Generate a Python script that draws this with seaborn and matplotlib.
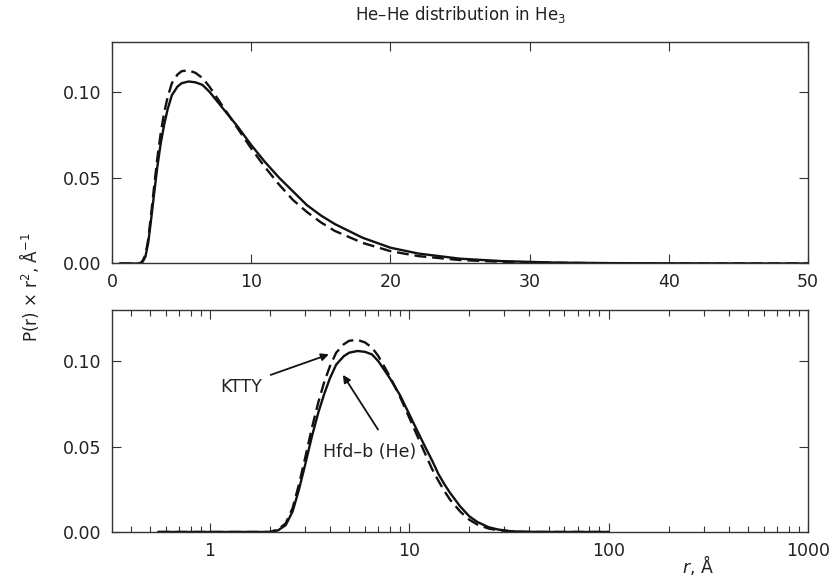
#!/usr/bin/env python3

import matplotlib
matplotlib.use("Agg")
import matplotlib.pylab as plt
import pandas as pd
import seaborn as sns

# Values
r_values = [0.55, 2.0, 2.2, 2.4, 2.6, 2.8, 3.0, 3.25, 3.5, 3.75, 4.0, 4.3, 4.7,
            5.0, 5.5, 6.0, 6.5, 7.0, 8.0, 9.0, 10, 11, 12, 13, 14, 15, 16, 18,
            20, 22, 25, 28, 32, 36, 40, 50, 70, 100]
hfd_b = [0, 0, 0.001, 0.004, 0.012, 0.025, 0.039, 0.056, 0.070, 0.081, 0.090,
         0.098, 0.103, 0.105, 0.106, 0.1055, 0.104, 0.100, 0.090, 0.080, 0.069,
         0.059, 0.050, 0.042, 0.034, 0.028, 0.023, 0.015, 0.0092, 0.0058,
         0.0028, 0.0014, 0.0005, 0.0002, 0.0001, 0, 0, 0]
ktty = [0, 0, 0.0015, 0.005, 0.014, 0.028, 0.043, 0.061, 0.076, 0.088, 0.097,
        0.105, 0.110, 0.112, 0.1125, 0.111, 0.108, 0.103, 0.091, 0.079, 0.067,
        0.056, 0.046, 0.037, 0.030, 0.024, 0.019, 0.012, 0.0072, 0.0043,
        0.002, 0.001, 0.0004, 0.0001, 0, 0, 0, 0]
models = ["Hfd-b (He)", "KTTY"]

top_xticks = [0, 10, 20, 30, 40, 50]
y_ticks = [0.00, 0.05, 0.10]


def main():
    df = pd.concat(
        [
            pd.DataFrame({"r": r_values, "value": hfd_b, "model": models[0]}),
            pd.DataFrame({"r": r_values, "value": ktty, "model": models[1]}),
        ]
    )

    sns.set_style("ticks")
    plt.rcParams["font.family"] = ["DejaVu Sans"]
    plt.rcParams["mathtext.fontset"] = "dejavusans"
    plt.rcParams["text.color"] = "#222222"
    plt.rcParams["axes.edgecolor"] = "#333333"
    plt.rcParams["xtick.color"] = "#333333"
    plt.rcParams["ytick.color"] = "#333333"
    plt.rcParams["xtick.labelcolor"] = "#222222"
    plt.rcParams["ytick.labelcolor"] = "#222222"

    fig = plt.figure(figsize=(8.31, 5.8), dpi=100)
    ax_top = fig.add_axes([0.1348, 0.5457, 0.8375, 0.3819])
    ax_bot = fig.add_axes([0.1348, 0.0828, 0.8375, 0.3827])

    for ax in [ax_top, ax_bot]:
        sns.lineplot(
            data=df,
            x="r",
            y="value",
            hue="model",
            style="model",
            hue_order=models,
            style_order=models,
            palette=["#111111", "#111111"],
            dashes={models[0]: "", models[1]: (5, 2.5)},
            linewidth=1.7,
            sort=False,
            legend=False,
            ax=ax,
        )
        ax.set_xlabel("")
        ax.set_ylabel("")
        ax.set_yticks(y_ticks)
        ax.set_yticklabels(["%.2f" % v for v in y_ticks])
        ax.tick_params(
            which="both", direction="in", top=True, right=True, labelsize=12.5,
            width=0.8,
        )
        ax.tick_params(axis="x", which="major", length=6.5, pad=7)
        ax.tick_params(axis="y", which="major", length=6.5, pad=8)
        ax.tick_params(which="minor", length=4.5)
        for spine in ax.spines.values():
            spine.set_linewidth(1.0)

    # Linear panel
    ax_top.set_xlim(0, 50)
    ax_top.set_ylim(0, 0.129)
    ax_top.set_xticks(top_xticks)
    ax_top.set_title("He–He distribution in He$_3$", fontsize=12, pad=16)

    # Log panel
    ax_bot.set_xscale("log")
    ax_bot.set_xlim(0.323, 1000)
    ax_bot.set_ylim(0, 0.13)
    ax_bot.set_xticks([1, 10, 100, 1000])
    ax_bot.set_xticklabels(["1", "10", "100", "1000"])

    arrow = dict(arrowstyle="-|>", color="#111111", lw=1.3,
                 mutation_scale=11, shrinkA=0, shrinkB=0)
    ax_bot.annotate("", xy=(3.95, 0.104), xytext=(2.02, 0.092),
                    arrowprops=arrow)
    ax_bot.text(1.44, 0.085, "KTTY", fontsize=12.5, ha="center", va="center")
    ax_bot.annotate("", xy=(4.65, 0.092), xytext=(6.97, 0.060),
                    arrowprops=arrow)
    ax_bot.text(6.3, 0.047, "Hfd–b (He)", fontsize=12.5,
                ha="center", va="center")

    fig.text(0.84, 0.012, "$\\it{r}$, Å", fontsize=12.5, ha="center")
    fig.text(0.035, 0.505, "P(r) × r$^2$, Å$^{-1}$", fontsize=12,
             rotation=90, ha="center", va="center")

    plt.savefig("out.png", dpi=100)
    plt.clf()


if __name__ == "__main__":
    main()
